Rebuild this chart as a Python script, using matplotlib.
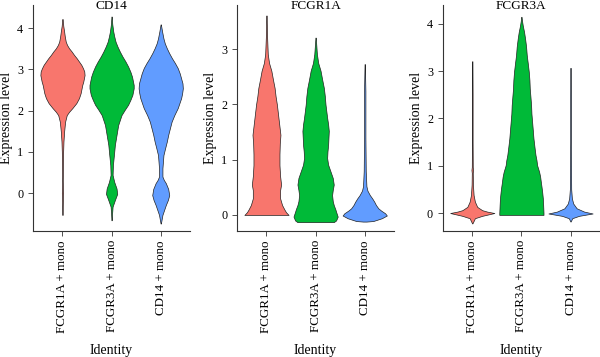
import numpy as np
import matplotlib
matplotlib.use("Agg")
import matplotlib.pyplot as plt

plt.rcParams['font.family'] = ['Liberation Serif', 'DejaVu Serif']

genes = ["CD14", "FCGR1A", "FCGR3A"]
groups = ["FCGR1A + mono", "FCGR3A + mono", "CD14 + mono"]
colors = ["#F8766D", "#00BA38", "#619CFF"]
ylims = [(-0.92, 4.56), (-0.29, 3.8), (-0.38, 4.4)]
yticks = [[0, 1, 2, 3, 4], [0, 1, 2, 3], [0, 1, 2, 3, 4]]

# --- violin density profiles (level, relative half-width) ---
cd14_fcgr1a_y = [-0.53, -0.3, -0.05, 0.0, 0.05, 0.3, 0.7, 1.0, 1.25, 1.49, 1.73, 1.89, 1.97, 2.06, 2.18, 2.30, 2.42, 2.54, 2.62, 2.70, 2.78, 2.86, 2.95, 3.03, 3.11, 3.19, 3.27, 3.35, 3.43, 3.51, 3.59, 3.67, 3.80, 3.92, 4.05, 4.22]
cd14_fcgr1a_w = [0.5, 1, 1.5, 2, 1.5, 1, 1.5, 2, 3, 5, 8, 13, 20, 30, 42, 50, 55, 58, 60, 63, 65, 67, 66, 62, 57, 50, 43, 35, 28, 20, 14, 10, 7, 5, 2.5, 0.5]
cd14_fcgr3a_y = [-0.66, -0.5, -0.33, -0.17, -0.02, 0.11, 0.27, 0.44, 0.68, 0.92, 1.17, 1.41, 1.65, 1.89, 2.02, 2.14, 2.26, 2.38, 2.54, 2.62, 2.70, 2.82, 2.94, 3.07, 3.19, 3.31, 3.43, 3.55, 3.67, 3.80, 3.92, 4.10, 4.28]
cd14_fcgr3a_w = [0.5, 1.5, 3, 10, 17, 15, 8, 3, 4, 7, 10, 15, 20, 30, 40, 50, 57, 63, 67, 67, 65, 62, 57, 50, 42, 33, 25, 18, 12, 8, 5, 2, 0.5]
cd14_cd14_y = [-0.74, -0.53, -0.41, -0.29, -0.17, -0.05, 0.1, 0.24, 0.32, 0.4, 0.6, 0.92, 1.09, 1.25, 1.41, 1.57, 1.73, 1.89, 2.06, 2.18, 2.30, 2.42, 2.54, 2.66, 2.78, 2.90, 3.03, 3.15, 3.27, 3.39, 3.51, 3.63, 3.75, 3.92, 4.09]
cd14_cd14_w = [0.5, 5, 10, 15, 21, 25, 22, 15, 9, 5, 5, 8, 13, 18, 22, 27, 32, 40, 50, 55, 60, 63, 65, 64, 60, 56, 50, 42, 33, 25, 18, 12, 8, 4, 0.5]

fcgr1a_fcgr1a_y = [0.0, 0.05, 0.1, 0.18, 0.3, 0.45, 0.55, 0.7, 0.9, 1.1, 1.3, 1.45, 1.6, 1.8, 2.0, 2.15, 2.3, 2.45, 2.61, 2.75, 2.91, 3.21, 3.61]
fcgr1a_fcgr1a_w = [68, 60, 55, 48, 42, 42, 45, 42, 40, 40, 41, 43, 40, 36, 32, 28, 25, 20, 15, 8, 4, 2, 0.5]
fcgr1a_fcgr3a_y = [-0.13, -0.1, -0.03, 0.06, 0.1, 0.18, 0.25, 0.36, 0.45, 0.55, 0.67, 0.79, 0.91, 1.03, 1.15, 1.27, 1.4, 1.52, 1.64, 1.76, 2.0, 2.15, 2.30, 2.45, 2.61, 2.75, 2.91, 3.21]
fcgr1a_fcgr3a_w = [55, 62, 67, 62, 60, 55, 52, 50, 52, 55, 52, 45, 38, 35, 36, 38, 39, 40, 38, 35, 30, 28, 25, 20, 15, 8, 4, 0.5]
fcgr1a_cd14_y = [-0.12, -0.11, -0.06, -0.01, 0.03, 0.08, 0.12, 0.18, 0.24, 0.3, 0.36, 0.44, 0.52, 0.79, 1.4, 2.24, 2.73]
fcgr1a_cd14_w = [5, 25, 50, 65, 60, 48, 40, 33, 28, 22, 15, 8, 5, 3, 2, 2, 0.5]

fcgr3a_fcgr1a_y = [-0.22, -0.11, -0.06, 0.0, 0.03, 0.06, 0.13, 0.24, 0.38, 0.6, 0.85, 0.91, 0.97, 1.5, 2.5, 3.21]
fcgr3a_fcgr1a_w = [0.5, 8, 30, 67, 45, 30, 15, 8, 4, 2, 1.5, 2.5, 1.5, 1, 1, 0.5]
fcgr3a_fcgr3a_y = [-0.04, 0.0, 0.17, 0.31, 0.45, 0.56, 0.66, 0.77, 0.87, 0.94, 1.01, 1.12, 1.23, 1.40, 1.58, 1.76, 1.93, 2.10, 2.28, 2.46, 2.63, 2.81, 2.99, 3.17, 3.34, 3.52, 3.69, 3.83, 3.97, 4.06, 4.15]
fcgr3a_fcgr3a_w = [66, 66, 65, 64, 62, 60, 58, 56, 53, 50, 47, 45, 42, 39, 36, 34, 32, 30, 29, 27, 25, 24, 22, 19, 16, 14, 11, 8, 4, 2, 0.5]
fcgr3a_cd14_y = [-0.18, -0.11, -0.06, -0.01, 0.03, 0.1, 0.2, 0.31, 0.5, 1.0, 1.5, 2.5, 3.07]
fcgr3a_cd14_w = [0.5, 5, 25, 65, 40, 18, 8, 4, 2, 1.5, 1, 1, 0.5]

profiles = [
    [(cd14_fcgr1a_y, cd14_fcgr1a_w), (cd14_fcgr3a_y, cd14_fcgr3a_w), (cd14_cd14_y, cd14_cd14_w)],
    [(fcgr1a_fcgr1a_y, fcgr1a_fcgr1a_w), (fcgr1a_fcgr3a_y, fcgr1a_fcgr3a_w), (fcgr1a_cd14_y, fcgr1a_cd14_w)],
    [(fcgr3a_fcgr1a_y, fcgr3a_fcgr1a_w), (fcgr3a_fcgr3a_y, fcgr3a_fcgr3a_w), (fcgr3a_cd14_y, fcgr3a_cd14_w)],
]

fig = plt.figure(figsize=(6.0, 3.57), dpi=100)
lefts = [0.055, 0.395, 0.738]
W, B, H = 0.262, 0.353, 0.633
for i, gene in enumerate(genes):
    ax = fig.add_axes([lefts[i], B, W, H])
    stats = []
    for (yy, ww) in profiles[i]:
        yy = np.asarray(yy, float)
        ww = np.asarray(ww, float)
        stats.append(dict(coords=yy, vals=ww, mean=np.mean(yy), median=np.median(yy),
                          min=yy.min(), max=yy.max()))
    parts = ax.violin(stats, positions=[1, 2, 3], widths=0.9,
                      showmeans=False, showextrema=False, showmedians=False)
    for body, c in zip(parts['bodies'], colors):
        body.set_facecolor(c)
        body.set_edgecolor('#222222')
        body.set_linewidth(0.5)
        body.set_alpha(1)
        body.set_joinstyle('round')
    ax.set_xlim(0.4, 3.6)
    ax.set_ylim(*ylims[i])
    ax.set_yticks(yticks[i])
    ax.set_xticks([1, 2, 3])
    ax.set_xticklabels(groups, rotation=90, fontsize=9.4)
    ax.tick_params(axis='y', labelsize=8.7, length=3.5, width=0.6, color='#333333', pad=3.5)
    ax.tick_params(axis='x', length=3.5, width=0.6, color='#333333', pad=3)
    for s in ['top', 'right']:
        ax.spines[s].set_visible(False)
    for s in ['left', 'bottom']:
        ax.spines[s].set_linewidth(0.8)
        ax.spines[s].set_color('#333333')
    ax.set_ylabel("Expression level", fontsize=10, labelpad=3)
    ax.set_xlabel("Identity", fontsize=10, labelpad=8)
    fig.text(lefts[i] + W / 2, 0.999, gene, fontsize=9.5, ha='center', va='top')

fig.savefig("out.png", dpi=100)
